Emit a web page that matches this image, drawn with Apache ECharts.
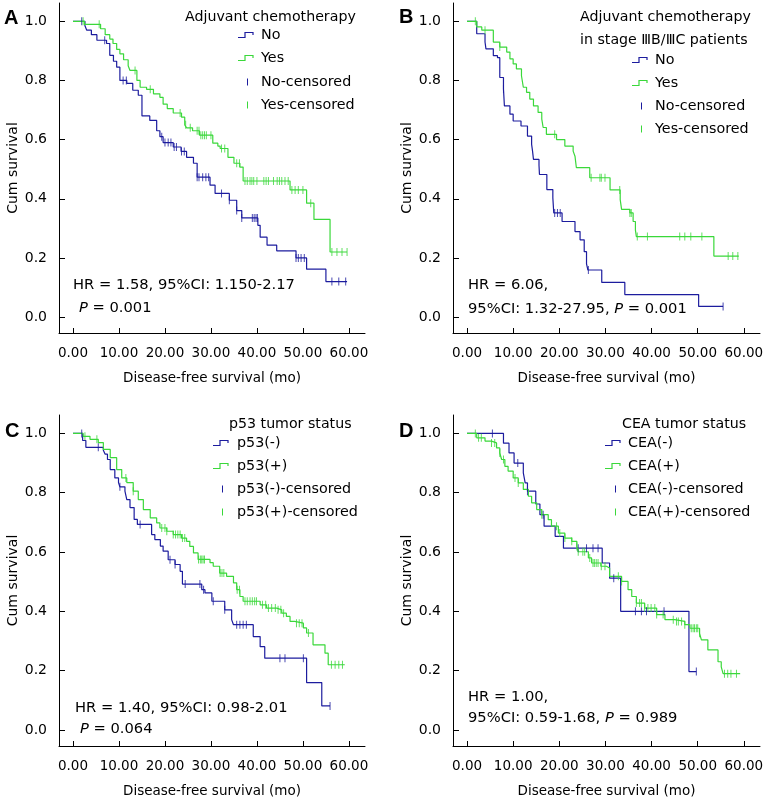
<!DOCTYPE html>
<html><head><meta charset="utf-8">
<script src="https://cdn.jsdelivr.net/npm/echarts@6/dist/echarts.min.js"></script>
<style>html,body{margin:0;padding:0;background:#fff}#c{width:771px;height:800px}</style>
</head><body><div id="c"></div>
<script>
// ---------- DATA ----------
const xTicks = [0, 10, 20, 30, 40, 50, 60];
const yTicks = [0, 0.2, 0.4, 0.6, 0.8, 1.0];

// Panel A: Adjuvant chemotherapy
const aNoTime = [0,2.6,3.0,4.0,5.2,7.3,8.0,8.8,9.5,10.2,11.7,13.0,14.2,15.0,16.7,18.2,18.9,19.6,21.8,23.5,24.7,26.2,27.0,29.8,30.9,34.0,35.6,36.7,40.2,40.7,42.2,44.3,48.5,50.8,55.0,59.6];
const aNoSurv = [1,0.985,0.97,0.955,0.936,0.925,0.885,0.865,0.845,0.80,0.79,0.767,0.75,0.68,0.665,0.63,0.61,0.59,0.575,0.56,0.54,0.52,0.473,0.446,0.418,0.395,0.36,0.335,0.31,0.27,0.243,0.224,0.2,0.162,0.12,0.12];
const aNoCens = [1.9,6.9,10.9,11.6,19.3,20.0,20.7,21.3,22.0,22.5,23.6,24.2,27.0,27.4,28.2,28.9,29.5,32.3,34.0,35.6,36.7,39.0,39.4,39.8,40.1,48.5,49.0,49.6,50.3,56.3,57.8,59.3];
const aYesTime = [0,2.5,6.0,7.0,8.0,8.7,9.5,10.2,11.0,12.0,12.4,13.9,14.6,16.0,17.5,18.9,19.6,20.5,21.8,23.6,24.3,24.7,26.0,27.5,30.4,31.5,32.0,33.7,35.0,36.3,37.0,47.2,50.8,52.4,55.9,59.6];
const aYesSurv = [1,0.99,0.975,0.955,0.94,0.925,0.905,0.89,0.87,0.85,0.834,0.80,0.777,0.77,0.755,0.743,0.72,0.705,0.69,0.676,0.65,0.64,0.63,0.615,0.588,0.578,0.57,0.54,0.52,0.507,0.46,0.43,0.385,0.33,0.22,0.22];
const aYesCens = [2.2,5.7,13.5,16.8,23.3,24.5,25.5,27.0,27.4,27.8,28.2,28.6,29.0,30.0,32.3,33.0,35.6,36.2,37.4,37.9,38.5,38.9,39.3,40.0,41.5,42.0,42.5,43.6,44.4,44.9,45.4,46.1,46.8,47.6,48.3,49.0,50.0,51.7,56.3,57.4,58.5,59.6];

// Panel B: Adjuvant chemotherapy in stage IIIB/IIIC
const bNoTime = [0,2.1,3.9,4.1,5.7,6.6,7.1,7.9,8.1,9.3,10.0,11.7,13.1,14.0,14.2,14.4,15.6,15.7,17.3,18.6,18.8,20.6,23.4,24.5,25.4,25.9,26.2,29.2,34.2,50.2,55.5];
const bNoSurv = [1,0.958,0.93,0.907,0.884,0.877,0.81,0.771,0.714,0.686,0.663,0.646,0.612,0.584,0.561,0.533,0.513,0.482,0.431,0.403,0.352,0.323,0.289,0.261,0.221,0.18,0.159,0.117,0.076,0.036,0.036];
const bNoCens = [7.9,19.0,19.6,20.2,26.3,55.5];
const bYesTime = [0,2.1,3.2,5.7,7.1,8.6,9.3,10.0,10.7,11.8,12.2,12.9,13.6,14.4,15.4,16.2,16.5,17.2,19.4,21.2,23.0,23.4,23.7,26.6,31.0,33.2,33.5,35.3,36.0,36.5,36.7,53.5,58.9];
const bYesSurv = [1,0.981,0.97,0.93,0.913,0.896,0.873,0.856,0.839,0.816,0.777,0.76,0.737,0.714,0.692,0.669,0.641,0.618,0.6,0.578,0.561,0.544,0.505,0.471,0.43,0.397,0.364,0.352,0.323,0.294,0.272,0.206,0.206];
const bYesCens = [1.8,3.9,7.1,19.0,26.9,28.8,29.1,29.9,33.1,35.3,35.6,36.9,39.1,46.1,47.2,48.5,50.9,56.6,57.6,58.7];

// Panel C: p53 tumor status
const cNegTime = [0,2.1,2.8,6.6,7.0,7.5,8.1,9.1,9.9,10.2,11.3,11.7,12.4,13.3,14.0,17.1,17.8,19.0,19.6,20.7,22.2,23.3,23.8,28.0,28.7,30.2,33.0,34.5,34.9,39.2,40.7,41.7,50.8,54.1,55.9];
const cNegSurv = [1,0.976,0.953,0.943,0.93,0.912,0.878,0.85,0.834,0.82,0.805,0.777,0.75,0.71,0.693,0.659,0.642,0.62,0.603,0.574,0.558,0.535,0.492,0.473,0.462,0.434,0.405,0.372,0.355,0.315,0.281,0.242,0.16,0.081,0.081];
const cNegCens = [1.9,5.5,10.2,14.6,21.1,22.2,24.4,27.6,28.4,30.5,33.0,35.6,36.3,37.0,37.7,45.0,46.1,50.1,55.9];
const cPosTime = [0,2.2,3.7,5.5,6.6,8.1,9.5,10.6,11.7,13.1,14.2,15.3,16.8,18.2,18.9,20.4,21.8,23.6,24.7,25.4,26.2,27.2,29.8,30.5,31.9,33.4,34.9,35.6,36.3,37.0,40.7,42.1,44.3,45.4,46.4,47.2,48.2,50.1,50.8,52.2,54.8,55.5,59.1];
const cPosSurv = [1,0.99,0.98,0.969,0.946,0.918,0.878,0.85,0.834,0.805,0.777,0.743,0.715,0.698,0.681,0.67,0.659,0.647,0.636,0.619,0.597,0.575,0.564,0.552,0.529,0.518,0.496,0.473,0.45,0.434,0.422,0.411,0.405,0.394,0.383,0.366,0.36,0.344,0.327,0.287,0.259,0.22,0.22];
const cPosCens = [2.6,5.2,11.5,13.1,19.3,20.0,20.4,21.8,22.3,22.8,23.3,23.8,24.3,27.3,27.7,28.0,28.3,28.6,32.0,32.4,32.8,35.7,36.2,37.4,37.9,38.5,39.0,39.5,39.9,41.2,41.9,42.5,43.2,44.0,44.6,45.2,45.8,48.6,49.2,49.8,51.2,56.2,57.0,57.8,58.6];

// Panel D: CEA tumor status
const dNegTime = [0,7.9,9.1,10.2,12.2,12.6,13.1,14.9,15.8,16.7,19.1,20.9,29.3,30.9,33.3,48.1,49.7];
const dNegSurv = [1,0.967,0.934,0.9,0.867,0.833,0.805,0.762,0.726,0.687,0.653,0.613,0.563,0.512,0.4,0.197,0.197];
const dNegCens = [5.5,11.0,13.1,16.5,24.1,25.9,27.3,28.4,31.8,36.5,37.8,38.9,42.7,49.7];
const dPosTime = [0,2.1,3.9,5.3,6.4,7.1,7.5,8.2,8.9,10.0,11.1,12.2,13.3,14.0,15.1,16.2,17.6,18.3,19.8,21.2,22.7,23.8,24.1,26.3,27.0,29.0,30.2,30.9,33.5,34.9,35.7,36.7,38.5,41.1,42.9,45.0,47.2,48.3,50.4,50.8,52.2,54.4,55.1,55.5,59.2];
const dPosSurv = [1,0.985,0.974,0.968,0.951,0.934,0.912,0.889,0.873,0.85,0.833,0.811,0.788,0.766,0.743,0.726,0.709,0.687,0.664,0.647,0.636,0.619,0.601,0.58,0.563,0.552,0.546,0.518,0.501,0.473,0.45,0.428,0.411,0.389,0.372,0.366,0.355,0.343,0.326,0.304,0.27,0.23,0.213,0.19,0.19];
const dPosCens = [1.8,2.5,3.1,5.3,6.0,7.1,7.9,10.4,11.1,16.2,19.4,20.1,21.2,22.7,23.8,24.1,25.1,25.5,26.6,27.3,27.6,28.0,28.4,29.1,29.9,32.8,33.5,36.7,37.4,37.8,38.5,39.2,39.9,40.7,41.1,42.5,44.7,45.4,45.8,46.5,47.2,48.6,49.0,49.3,49.7,50.0,50.4,55.8,56.5,57.2,58.4];

// ---------- STYLE / LAYOUT ----------
const BLUE = '#1c1c9e', GREEN = '#3ad83a';
const FF = 'DejaVu Sans';
const grids = [
  {left: 59, top: 3, width: 306, height: 330},
  {left: 453, top: 3, width: 307, height: 330},
  {left: 59, top: 415, width: 306, height: 331},
  {left: 453, top: 415, width: 307, height: 331}
];

function pairs(t, s) { return t.map((v, i) => [v, s[i]]); }
function survAt(t, s, x) { let v = s[0]; for (let i = 0; i < t.length; i++) { if (t[i] <= x) v = s[i]; else break; } return v; }
function cens(t, s, c) { return c.map(x => [x, survAt(t, s, x)]); }

const panels = [
  [[aNoTime, aNoSurv, aNoCens, BLUE], [aYesTime, aYesSurv, aYesCens, GREEN]],
  [[bNoTime, bNoSurv, bNoCens, BLUE], [bYesTime, bYesSurv, bYesCens, GREEN]],
  [[cNegTime, cNegSurv, cNegCens, BLUE], [cPosTime, cPosSurv, cPosCens, GREEN]],
  [[dNegTime, dNegSurv, dNegCens, BLUE], [dPosTime, dPosSurv, dPosCens, GREEN]]
];

const xAxes = [], yAxes = [], series = [];
grids.forEach((g, i) => {
  xAxes.push({
    type: 'value', gridIndex: i, min: -3.04, max: 63.5,
    name: 'Disease-free survival (mo)', nameLocation: 'middle', nameGap: 38,
    nameTextStyle: {fontFamily: FF, fontSize: 13.5, color: '#000'},
    axisLine: {onZero: false, lineStyle: {color: '#000', width: 1}},
    axisTick: {inside: true, length: 5, customValues: xTicks, lineStyle: {color: '#000'}},
    axisLabel: {customValues: xTicks, formatter: v => v.toFixed(2), fontFamily: FF, fontSize: 13.5, color: '#000', margin: 13},
    splitLine: {show: false}
  });
  yAxes.push({
    type: 'value', gridIndex: i, min: -0.054, max: 1.062,
    name: 'Cum survival', nameLocation: 'middle', nameGap: 38,
    nameTextStyle: {fontFamily: FF, fontSize: 14, color: '#000'},
    axisLine: {show: true, onZero: false, lineStyle: {color: '#000', width: 1}},
    axisTick: {inside: true, length: 6, customValues: yTicks, lineStyle: {color: '#000'}},
    axisLabel: {customValues: yTicks, formatter: v => v.toFixed(1), fontFamily: FF, fontSize: 14, color: '#000', margin: 12},
    splitLine: {show: false}
  });
  panels[i].forEach(([t, s, c, col]) => {
    series.push({
      type: 'line', xAxisIndex: i, yAxisIndex: i, step: 'end', symbol: 'none',
      data: pairs(t, s), lineStyle: {color: col, width: 1.2}, itemStyle: {color: col},
      silent: true, animation: false, z: 2
    });
    series.push({
      type: 'scatter', xAxisIndex: i, yAxisIndex: i, symbol: 'rect', symbolSize: [1, 8],
      data: cens(t, s, c), itemStyle: {color: col}, silent: true, animation: false, z: 3
    });
  });
});

// ---------- TEXT / LEGENDS ----------
const graphic = [];
function txt(x, y, text, opts) {
  const fs = (opts && opts.fontSize) || 14;
  graphic.push({type: 'text', x: x, y: y, silent: true, style: Object.assign({
    text: text, fill: '#000', fontSize: fs, fontFamily: FF,
    align: 'left', textAlign: 'left', verticalAlign: 'middle', textVerticalAlign: 'middle',
    rich: {i: {fontStyle: 'italic', fontSize: fs, fontFamily: FF, fill: '#000'}}
  }, opts || {})});
}
function legend(titles, tx, ty, symX, textX, rows, censX, labels) {
  titles.forEach((tt, k) => txt(tx, ty + k * 23, tt, {fontSize: 14.2}));
  const cols = [BLUE, GREEN, BLUE, GREEN];
  rows.forEach((ry, k) => {
    if (k < 2) {
      graphic.push({type: 'polyline', silent: true,
        shape: {points: [[symX, ry + 2.5], [symX + 7, ry + 2.5], [symX + 7, ry - 2.5], [symX + 15, ry - 2.5], [symX + 15, ry]]},
        style: {stroke: cols[k], fill: null, lineWidth: 1.2}});
    } else {
      graphic.push({type: 'line', silent: true,
        shape: {x1: censX + 0.5, y1: ry - 3.5, x2: censX + 0.5, y2: ry + 3.5},
        style: {stroke: cols[k], lineWidth: 1}});
    }
    txt(textX, ry, labels[k], {fontSize: 14.3});
  });
}
legend(['Adjuvant chemotherapy'], 185, 17, 238, 261, [35, 58, 82, 105], 247,
  ['No', 'Yes', 'No-censored', 'Yes-censored']);
legend(['Adjuvant chemotherapy', 'in stage \u2162B/\u2162C patients'], 580, 17, 632, 655, [60, 83, 106, 129], 641,
  ['No', 'Yes', 'No-censored', 'Yes-censored']);
legend(['p53 tumor status'], 229, 424, 213, 237, [443, 466, 489, 512], 222,
  ['p53(-)', 'p53(+)', 'p53(-)-censored', 'p53(+)-censored']);
legend(['CEA tumor status'], 622, 424, 605, 628, [443, 466, 489, 512], 615,
  ['CEA(-)', 'CEA(+)', 'CEA(-)-censored', 'CEA(+)-censored']);

// statistics
const statStyle = {fontSize: 14.7};
txt(73, 285, 'HR = 1.58, 95%CI: 1.150-2.17', statStyle);
txt(79, 308, '{i|P} = 0.001', statStyle);
txt(468, 285, 'HR = 6.06,', statStyle);
txt(468, 309, '95%CI: 1.32-27.95, {i|P} = 0.001', statStyle);
txt(75, 708, 'HR = 1.40, 95%CI: 0.98-2.01', statStyle);
txt(80, 729, '{i|P} = 0.064', statStyle);
txt(468, 697, 'HR = 1.00,', statStyle);
txt(468, 718, '95%CI: 0.59-1.68, {i|P} = 0.989', statStyle);

// panel letters
const letterStyle = {fontSize: 20, fontWeight: 'bold', fontFamily: 'Liberation Sans'};
txt(4, 18, 'A', letterStyle);
txt(399, 17, 'B', letterStyle);
txt(5, 431, 'C', letterStyle);
txt(399, 431, 'D', letterStyle);

const chart = echarts.init(document.getElementById('c'), null, {renderer: 'canvas'});
chart.setOption({
  animation: false,
  backgroundColor: '#fff',
  grid: grids,
  xAxis: xAxes,
  yAxis: yAxes,
  series: series,
  graphic: graphic
});
</script></body></html>
